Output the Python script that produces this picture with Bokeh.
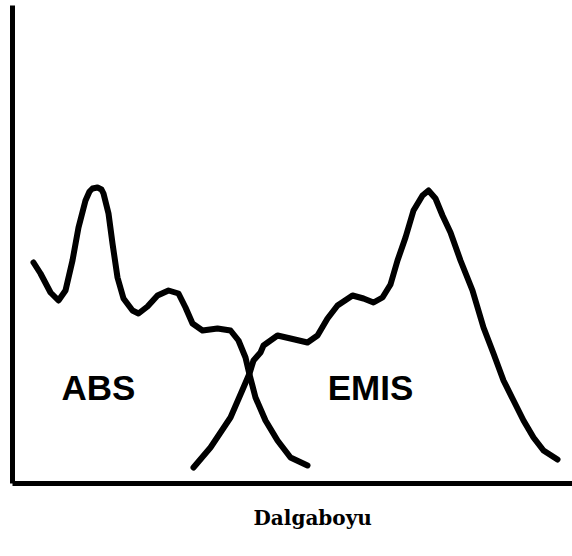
from bokeh.plotting import figure
from bokeh.models import Range1d, FixedTicker, Title
from bokeh.core.properties import value
from bokeh.embed import file_html
from bokeh.resources import INLINE

# Absorption spectrum (arbitrary wavelength units, arbitrary intensity)
abs_x = [4.2, 5.6, 7.6, 9.2, 10.6, 12.0, 13.2, 14.6, 15.4, 16.0, 17.0, 17.8, 18.2, 19.2, 20.0, 21.0,
         22.2, 24.0, 25.2, 27.0, 29.0, 31.2, 33.2, 34.6, 36.0, 38.0, 41.0, 43.6, 45.2,
         46.6, 47.4, 48.6, 50.6, 53.0, 55.6, 59.0]
abs_y = [44.2, 42.0, 38.2, 36.6, 38.6, 44.6, 51.2, 56.6, 58.4, 59.0, 59.2, 58.8, 58.0, 54.0, 48.0, 41.2,
         37.0, 34.6, 34.0, 35.4, 37.6, 38.6, 38.0, 35.2, 32.0, 30.6, 31.0, 30.6, 28.6,
         25.2, 21.8, 17.2, 12.6, 8.6, 5.2, 3.6]

# Emission spectrum
emis_x = [36.2, 39.6, 43.6, 46.2, 47.4, 48.2, 49.6, 50.2, 51.6, 53.0, 55.6, 59.0, 61.0,
          63.0, 65.0, 68.0, 70.2, 72.2, 74.0, 75.6, 77.0, 78.6, 80.2, 82.0, 83.2, 84.6,
          86.0, 87.6, 89.6, 92.0, 94.2, 96.2, 98.2, 100.2, 102.2, 104.2, 106.2, 109.0]
emis_y = [3.2, 7.2, 13.2, 19.2, 22.0, 24.6, 26.2, 27.6, 28.6, 29.6, 29.0, 28.2, 29.6,
          33.0, 35.6, 37.6, 37.0, 36.2, 37.2, 39.8, 44.6, 49.2, 54.6, 57.6, 58.6, 57.0,
          53.6, 50.2, 44.6, 38.6, 31.2, 26.0, 20.6, 16.6, 12.6, 9.2, 6.6, 4.8]

labels = ["ABS", "EMIS"]
label_x = [17.2, 71.6]
label_y = [19.2, 19.2]
x_title = "Dalgaboyu"

p = figure(width=572, height=556, output_backend="svg", toolbar_location=None,
           x_range=Range1d(0, 112), y_range=Range1d(0, 95.6),
           min_border_left=12, min_border_right=0, min_border_top=5, min_border_bottom=73)
p.outline_line_color = None
p.grid.visible = False
p.background_fill_color = "white"
p.border_fill_color = "white"

for ax in (p.xaxis[0], p.yaxis[0]):
    ax.ticker = FixedTicker(ticks=[])
    ax.axis_line_width = 5
    ax.axis_line_color = "black"
    ax.major_tick_line_color = None
    ax.minor_tick_line_color = None
    ax.major_tick_out = 0
    ax.major_tick_in = 0
    ax.major_label_standoff = 0
    ax.axis_label = None

p.line(abs_x, abs_y, line_width=6, line_color="black", line_join="round", line_cap="round")
p.line(emis_x, emis_y, line_width=6, line_color="black", line_join="round", line_cap="round")

p.text(label_x, label_y, text=labels, text_font=value("Liberation Sans"),
       text_font_style="bold", text_font_size="35px", text_align="center",
       text_baseline="middle", text_color="black")

# x-axis title, below the axis line, slightly right of centre as in the original
t = Title(text=x_title, align="left", offset=241, text_font="DejaVu Serif",
          text_font_style="bold", text_font_size="20px", text_color="black")
try:
    t.padding = dict(left=0, right=0, top=15, bottom=0)
except Exception:
    pass
p.add_layout(t, "below")

open("out.html", "w").write(file_html(p, INLINE))
